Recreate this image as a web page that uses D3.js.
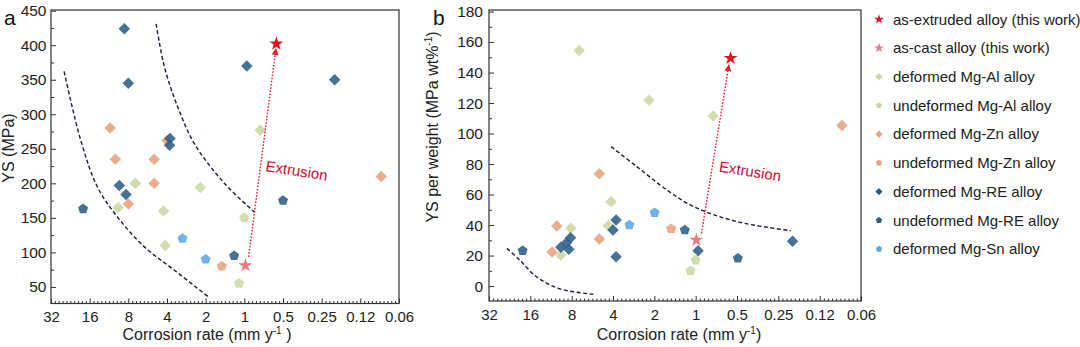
<!DOCTYPE html>
<html>
<head>
<meta charset="utf-8">
<script src="https://cdn.jsdelivr.net/npm/d3@7"></script>
<style>
  html, body { margin: 0; padding: 0; background: #fff; }
  svg { display: block; font-family: "Liberation Sans", Arial, sans-serif; }
</style>
</head>
<body>
<svg id="chart" width="1080" height="347"></svg>
<script>
// ---------- data (corrosion rate mm/y, value) ----------
const xTickValues = [32, 16, 8, 4, 2, 1, 0.5, 0.25, 0.125, 0.0625];
const xTickLabels = ["32", "16", "8", "4", "2", "1", "0.5", "0.25", "0.12", "0.06"];
const aYTicks = [50, 100, 150, 200, 250, 300, 350, 400, 450];
const bYTicks = [0, 20, 40, 60, 80, 100, 120, 140, 160, 180];

// panel a : YS (MPa)
const aDefAl   = [[9.58,165],[7.05,200],[4.26,160],[4.14,110],[2.2,194],[0.752,277]];
const aUndefAl = [[1.0,150],[1.1,55]];
const aDefZn   = [[11.07,280],[10.1,235],[5.04,235],[5.04,200],[8.0,170],[0.086,210],[4.0,262]];
const aUndefZn = [[1.5,80]];
const aDefRE   = [[8.6,424],[8.0,345],[3.79,265],[3.82,255],[9.4,197],[8.34,184],[0.956,370],[0.198,350]];
const aUndefRE = [[18.0,163],[1.2,95],[0.5,175]];
const aDefSn   = [[3.03,120],[2.0,90]];
const aExtruded = [[0.563,402]];
const aCast     = [[0.98,81]];
const aCurveLeft  = [[25.3,362],[18.75,262],[13.9,194.6],[9.7,151],[6.0,108],[3.49,74],[1.86,34]];
const aCurveRight = [[4.86,431],[4.18,368],[3.29,310],[2.44,257],[1.42,199.5],[0.83,158]];
const aArrow = [[0.927,93.4],[0.567,395]];
const aLabel = [0.69, 218];

// panel b : YS per weight (MPa wt%^-1)
const bDefAl   = [[7.05,154.4],[2.19,121.8],[0.745,111.5],[4.13,55.3],[8.1,37.9],[9.6,20.3],[4.33,39.6]];
const bUndefAl = [[1.0,17],[1.09,10]];
const bDefZn   = [[10.27,39.4],[11.1,22.3],[5.03,73.7],[5.03,30.8],[0.086,105.2]];
const bUndefZn = [[1.51,37.6]];
const bDefRE   = [[3.8,43.3],[4.0,36.7],[3.8,19.2],[0.96,23.2],[0.197,29.3],[9.6,25.4],[8.72,28.4],[8.15,31.7],[8.39,24.1]];
const bUndefRE = [[18.2,23.2],[1.2,36.7],[0.493,18.2]];
const bDefSn   = [[3.04,40],[1.99,48.1]];
const bExtruded = [[0.557,149.4]];
const bCast     = [[0.988,30.2]];
const bCurveLeft  = [[23.7,24.7],[19.15,17.1],[14.45,6.1],[9.76,-1.8],[5.57,-5.4]];
const bCurveRight = [[4.13,91.4],[2.68,78.3],[1.62,63],[1.03,52],[0.497,42.2],[0.203,36.3]];
const bArrow = [[0.907,34.6],[0.573,145]];
const bLabel = [0.682, 75.1];

const legendLabels = [
  "as-extruded alloy (this work)",
  "as-cast alloy (this work)",
  "deformed Mg-Al alloy",
  "undeformed Mg-Al alloy",
  "deformed Mg-Zn alloy",
  "undeformed Mg-Zn alloy",
  "deformed Mg-RE alloy",
  "undeformed Mg-RE alloy",
  "deformed Mg-Sn alloy"
];

// ---------- styles ----------
const C = {
  extruded: "#e8141c", cast: "#ea7a80",
  al: "#c9daa2", zn: "#e9a27f", re: "#2c5e8a", sn: "#5ca8e8",
  curve: "#1c1c3c", arrow: "#e0202a", text: "#c8102e", axis: "#333"
};

const pentagon = {
  draw(ctx, size) {
    const r = Math.sqrt(size / (2.5 * Math.sin(2 * Math.PI / 5)));
    for (let i = 0; i < 5; i++) {
      const a = -Math.PI / 2 + i * 2 * Math.PI / 5;
      const px = r * Math.cos(a), py = r * Math.sin(a);
      if (i === 0) ctx.moveTo(px, py); else ctx.lineTo(px, py);
    }
    ctx.closePath();
  }
};
const diamond = {
  draw(ctx, size) {
    const h = Math.sqrt(size / 2);
    ctx.moveTo(0, -h); ctx.lineTo(h, 0); ctx.lineTo(0, h); ctx.lineTo(-h, 0); ctx.closePath();
  }
};

const svg = d3.select("#chart");

const defs = svg.append("defs");
defs.append("marker").attr("id", "arrowhead")
  .attr("viewBox", "0 0 10 10").attr("refX", 9).attr("refY", 5)
  .attr("markerWidth", 5).attr("markerHeight", 5).attr("orient", "auto")
  .append("path").attr("d", "M0,0 L10,5 L0,10 z").attr("fill", C.arrow);

function panel(cfg) {
  const x = d3.scaleLog().base(2).domain([32, 0.0625]).range([cfg.left, cfg.right]);
  const y = d3.scaleLinear().domain(cfg.yDomain).range([cfg.bottom, cfg.top]);
  const g = svg.append("g");

  // minor x ticks
  const minorX = [];
  for (let k = -4; k < 5; k++) for (let j = 1; j < 10; j++) minorX.push(Math.pow(2, k + j / 10));
  g.append("g").attr("transform", `translate(0,${cfg.bottom})`)
    .call(d3.axisBottom(x).tickValues(minorX).tickSize(-2.5).tickFormat(""))
    .call(s => s.select(".domain").remove())
    .selectAll("line").attr("stroke", C.axis);

  // major x ticks
  const xa = g.append("g").attr("transform", `translate(0,${cfg.bottom})`)
    .call(d3.axisBottom(x).tickValues(xTickValues).tickSize(-5)
      .tickPadding(cfg.xPad).tickFormat((d, i) => xTickLabels[i]));
  xa.select(".domain").remove();
  xa.selectAll("line").attr("stroke", C.axis);
  xa.selectAll("text").attr("font-size", 15).attr("fill", "#222")
    .attr("font-family", "Liberation Sans, Arial, sans-serif");

  // minor y ticks
  const minorY = d3.range(cfg.minorStart, cfg.yDomain[1], cfg.minorStep)
    .filter(v => v > cfg.yDomain[0] && !cfg.yTicks.includes(v));
  g.append("g").attr("transform", `translate(${cfg.left},0)`)
    .call(d3.axisLeft(y).tickValues(minorY).tickSize(-3).tickFormat(""))
    .call(s => s.select(".domain").remove())
    .selectAll("line").attr("stroke", C.axis);

  const ya = g.append("g").attr("transform", `translate(${cfg.left},0)`)
    .call(d3.axisLeft(y).tickValues(cfg.yTicks).tickSize(-5).tickPadding(cfg.yPad));
  ya.select(".domain").remove();
  ya.selectAll("line").attr("stroke", C.axis);
  ya.selectAll("text").attr("font-size", 15.5).attr("fill", "#222")
    .attr("font-family", "Liberation Sans, Arial, sans-serif");

  // frame
  g.append("rect").attr("x", cfg.left).attr("y", cfg.top)
    .attr("width", cfg.right - cfg.left).attr("height", cfg.bottom - cfg.top)
    .attr("fill", "none").attr("stroke", C.axis).attr("stroke-width", 1.2);

  // dashed curves
  const line = d3.line().x(d => x(d[0])).y(d => y(d[1])).curve(d3.curveCatmullRom);
  cfg.curves.forEach(c => {
    g.append("path").attr("d", line(c)).attr("fill", "none")
      .attr("stroke", C.curve).attr("stroke-width", 1.4).attr("stroke-dasharray", "4,2.5");
  });

  // markers
  const series = [
    [cfg.defZn, diamond, C.zn], [cfg.undefZn, pentagon, C.zn],
    [cfg.defAl, diamond, C.al], [cfg.undefAl, pentagon, C.al],
    [cfg.defRE, diamond, C.re], [cfg.undefRE, pentagon, C.re],
    [cfg.defSn, pentagon, C.sn]
  ];
  series.forEach(([data, type, color]) => {
    g.append("g").selectAll("path").data(data).join("path")
      .attr("transform", d => `translate(${x(d[0])},${y(d[1])})`)
      .attr("d", d3.symbol(type, 66))
      .attr("fill", color).attr("fill-opacity", 0.88);
  });

  // arrow
  g.append("line")
    .attr("x1", x(cfg.arrow[0][0])).attr("y1", y(cfg.arrow[0][1]))
    .attr("x2", x(cfg.arrow[1][0])).attr("y2", y(cfg.arrow[1][1]))
    .attr("stroke", C.arrow).attr("stroke-width", 1.4).attr("stroke-dasharray", "1.6,1.6")
    .attr("marker-end", "url(#arrowhead)");

  // stars
  [[cfg.cast, C.cast], [cfg.extruded, C.extruded]].forEach(([data, color]) => {
    g.append("g").selectAll("path").data(data).join("path")
      .attr("transform", d => `translate(${x(d[0])},${y(d[1])})`)
      .attr("d", d3.symbol(d3.symbolStar, 60)).attr("fill", color);
  });

  // Extrusion label
  const lx = x(cfg.label[0]), ly = y(cfg.label[1]);
  g.append("text").attr("transform", `translate(${lx},${ly}) rotate(9)`)
    .attr("font-size", 15).attr("fill", C.text).text("Extrusion");

  // axis titles
  const xt = g.append("text").attr("x", cfg.xTitleX).attr("y", 339.5)
    .attr("text-anchor", "middle").attr("font-size", 16).attr("fill", "#222");
  xt.append("tspan").text("Corrosion rate (mm y");
  xt.append("tspan").attr("font-size", 10).attr("dy", -6).text("-1");
  xt.append("tspan").attr("dy", 6).text(cfg.xTitleEnd);

  const yt = g.append("text")
    .attr("transform", `translate(${cfg.yTitleX},${cfg.yTitleY}) rotate(-90)`)
    .attr("text-anchor", "middle").attr("font-size", 16).attr("fill", "#222");
  cfg.yTitle(yt);

  // panel letter
  g.append("text").attr("x", cfg.letterX).attr("y", 25).attr("font-size", 21)
    .attr("fill", "#111").text(cfg.letter);
}

panel({
  left: 51, right: 399, top: 10, bottom: 303.5, yDomain: [26, 451],
  yTicks: aYTicks, minorStart: 25, minorStep: 25, xPad: 7.5, yPad: 4.5,
  defAl: aDefAl, undefAl: aUndefAl, defZn: aDefZn, undefZn: aUndefZn,
  defRE: aDefRE, undefRE: aUndefRE, defSn: aDefSn, extruded: aExtruded, cast: aCast,
  curves: [aCurveLeft, aCurveRight], arrow: aArrow, label: aLabel,
  xTitleX: 207, xTitleEnd: " )", yTitleX: 14, yTitleY: 148,
  yTitle: t => t.text("YS (MPa)"),
  letter: "a", letterX: 4
});

panel({
  left: 489, right: 861, top: 10, bottom: 301, yDomain: [-9.8, 181],
  yTicks: bYTicks, minorStart: 10, minorStep: 10, xPad: 8.5, yPad: 6,
  defAl: bDefAl, undefAl: bUndefAl, defZn: bDefZn, undefZn: bUndefZn,
  defRE: bDefRE, undefRE: bUndefRE, defSn: bDefSn, extruded: bExtruded, cast: bCast,
  curves: [bCurveLeft, bCurveRight], arrow: bArrow, label: bLabel,
  xTitleX: 679, xTitleEnd: ")", yTitleX: 438, yTitleY: 127,
  yTitle: t => {
    t.append("tspan").text("YS per weight (MPa wt%");
    t.append("tspan").attr("font-size", 10).attr("dy", -6).text("-1");
    t.append("tspan").attr("dy", 6).text(")");
  },
  letter: "b", letterX: 433
});

// ---------- legend ----------
const legendSymbols = [
  [d3.symbolStar, C.extruded, 30], [d3.symbolStar, C.cast, 30],
  [diamond, C.al, 26], [pentagon, C.al, 26],
  [diamond, C.zn, 26], [pentagon, C.zn, 26],
  [diamond, C.re, 26], [pentagon, C.re, 26],
  [pentagon, C.sn, 26]
];
const lg = svg.append("g");
const ly = d3.scaleLinear().domain([0, 8]).range([19.3, 249]);
legendLabels.forEach((lab, i) => {
  const [type, color, size] = legendSymbols[i];
  lg.append("path").attr("transform", `translate(879,${ly(i)})`)
    .attr("d", d3.symbol(type, size)).attr("fill", color);
  lg.append("text").attr("x", 893).attr("y", ly(i)).attr("dy", "0.35em")
    .attr("font-size", 15).attr("fill", "#222").text(lab);
});
</script>
</body>
</html>
